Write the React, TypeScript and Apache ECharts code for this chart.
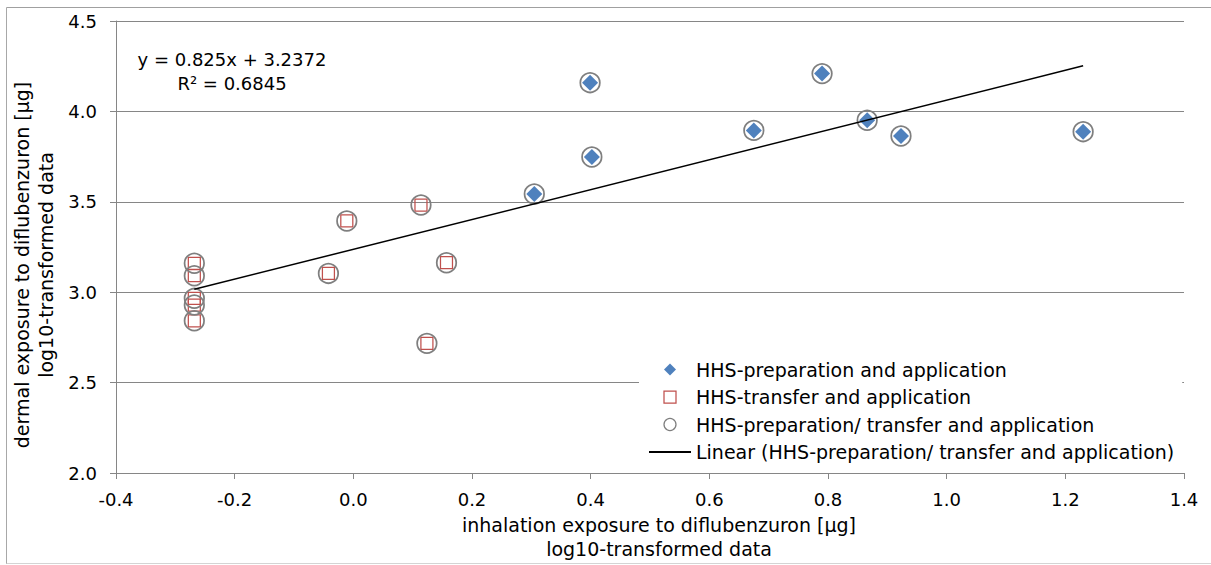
import React, { useEffect, useRef } from "react";
import * as echarts from "echarts";

const FONT = "'DejaVu Sans', 'Liberation Sans', sans-serif";

// Series names
const PREP_NAME = "HHS-preparation and application";
const TRANSFER_NAME = "HHS-transfer and application";
const ALL_NAME = "HHS-preparation/ transfer and application";
const LINEAR_NAME = "Linear (HHS-preparation/ transfer and application)";

// HHS-preparation and application (log10 µg)
const prepInhalation = [0.399, 0.402, 0.305, 0.675, 0.79, 0.866, 0.923, 1.23];
const prepDermal = [4.159, 3.748, 3.543, 3.895, 4.209, 3.951, 3.864, 3.888];

// HHS-transfer and application (log10 µg)
const transferInhalation = [-0.268, -0.268, -0.268, -0.268, -0.268, -0.042, 0.157, 0.124, -0.011, 0.114];
const transferDermal = [3.16, 3.091, 2.966, 2.929, 2.842, 3.104, 3.163, 2.717, 3.394, 3.482];

// Linear trend fitted to the combined data
const trendSlope = 0.825;
const trendIntercept = 3.2372;
const rSquared = 0.6845;

// Axis ranges
const xRange = { min: -0.4, max: 1.4, interval: 0.2 };
const yRange = { min: 2.0, max: 4.5, interval: 0.5 };

const yTitleLines = ["dermal exposure to diflubenzuron [µg]", "log10-transformed data"];
const xTitleLines = ["inhalation exposure to diflubenzuron [µg]", "log10-transformed data"];

const GRID_COLOR = "#868686";
const BLUE = "#4f81bd";
const RED = "#c0504d";
const GREY = "#7f7f7f";

// Square-proportioned legend icons (path symbols keep their aspect ratio)
const DIAMOND_ICON = "path://M5,0L10,5L5,10L0,5Z";
const SQUARE_ICON = "path://M0,0L10,0L10,10L0,10Z";

export default function App() {
  const ref = useRef<HTMLDivElement>(null);

  useEffect(() => {
    if (!ref.current) return;
    const chart = echarts.init(ref.current, null, { renderer: "svg" });

    const prepPoints = prepInhalation.map((x, i) => [x, prepDermal[i]]);
    const transferPoints = transferInhalation.map((x, i) => [x, transferDermal[i]]);
    const allPoints = [...prepPoints, ...transferPoints];
    const allX = allPoints.map((p) => p[0]);
    const xLo = Math.min(...allX);
    const xHi = Math.max(...allX);
    const trendPoints = [xLo, xHi].map((x) => [x, trendSlope * x + trendIntercept]);

    const fmt = (v: number) => (Math.abs(v) < 1e-9 ? "0.0" : v.toFixed(1));

    const axisLabelStyle = { fontFamily: FONT, fontSize: 18, color: "#000" };
    const textStyle = (text: string, size: number) => ({
      text,
      fontFamily: FONT,
      fontSize: size,
      fill: "#000",
      textAlign: "center",
      textVerticalAlign: "middle",
    });

    chart.setOption({
      animation: false,
      grid: { left: 116, right: 27, top: 21, bottom: 92, outerBoundsMode: "none" },
      xAxis: {
        type: "value",
        min: xRange.min,
        max: xRange.max,
        interval: xRange.interval,
        axisLine: { show: true, onZero: false, lineStyle: { color: GRID_COLOR, width: 1 } },
        axisTick: { show: true, length: 6, lineStyle: { color: GRID_COLOR, width: 1 } },
        splitLine: { show: false },
        axisLabel: { ...axisLabelStyle, margin: 17, formatter: fmt },
      },
      yAxis: {
        type: "value",
        min: yRange.min,
        max: yRange.max,
        interval: yRange.interval,
        axisLine: { show: true, onZero: false, lineStyle: { color: GRID_COLOR, width: 1 } },
        axisTick: { show: true, length: 6, lineStyle: { color: GRID_COLOR, width: 1 } },
        splitLine: { show: true, lineStyle: { color: GRID_COLOR, width: 1 } },
        axisLabel: { ...axisLabelStyle, margin: 19, formatter: fmt },
      },
      legend: {
        orient: "vertical",
        left: 639,
        top: 352,
        padding: [8, 8, 6, 9],
        backgroundColor: "#fff",
        itemWidth: 42,
        itemHeight: 12,
        itemGap: 8.5,
        symbolKeepAspect: true,
        selectedMode: false,
        textStyle: { fontFamily: FONT, fontSize: 19, color: "#000", lineHeight: 19 },
        data: [
          { name: PREP_NAME, icon: DIAMOND_ICON, itemStyle: { color: BLUE, borderWidth: 0, opacity: 1 } },
          {
            name: TRANSFER_NAME,
            icon: SQUARE_ICON,
            itemStyle: { color: "#fff", borderColor: RED, borderWidth: 1.25, opacity: 1 },
          },
          {
            name: ALL_NAME,
            icon: "circle",
            itemStyle: { color: "#fff", borderColor: GREY, borderWidth: 1.25, opacity: 1 },
          },
          {
            name: LINEAR_NAME,
            itemStyle: { color: "rgba(0,0,0,0)", borderWidth: 0, opacity: 0 },
          },
        ],
      },
      series: [
        {
          name: PREP_NAME,
          type: "scatter",
          symbol: "diamond",
          symbolSize: 16,
          itemStyle: { color: BLUE, opacity: 1 },
          data: prepPoints,
          z: 2,
        },
        {
          name: TRANSFER_NAME,
          type: "scatter",
          symbol: "rect",
          symbolSize: 12,
          itemStyle: { color: "rgba(0,0,0,0)", borderColor: RED, borderWidth: 1.25, opacity: 1 },
          data: transferPoints,
          z: 3,
        },
        {
          name: ALL_NAME,
          type: "scatter",
          symbol: "circle",
          symbolSize: 19.5,
          itemStyle: { color: "rgba(0,0,0,0)", borderColor: GREY, borderWidth: 1.75, opacity: 1 },
          data: allPoints,
          z: 4,
        },
        {
          name: LINEAR_NAME,
          type: "line",
          symbol: "none",
          showSymbol: false,
          itemStyle: { color: "#000" },
          lineStyle: { color: "#000", width: 1.5 },
          data: trendPoints,
          z: 5,
        },
      ],
      graphic: [
        // chart frame
        { type: "line", silent: true, shape: { x1: 6.5, y1: 7.5, x2: 1211, y2: 7.5 }, style: { stroke: "#a0a0a0", lineWidth: 1 } },
        { type: "line", silent: true, shape: { x1: 6.5, y1: 7.5, x2: 6.5, y2: 564 }, style: { stroke: "#a8a8a8", lineWidth: 1 } },
        { type: "line", silent: true, shape: { x1: 6.5, y1: 563.5, x2: 1211, y2: 563.5 }, style: { stroke: "#d4d4d4", lineWidth: 1 } },
        // trendline equation
        { type: "text", x: 232, y: 59, style: textStyle(`y = ${trendSlope}x + ${trendIntercept}`, 18) },
        { type: "text", x: 232, y: 83, style: textStyle(`R² = ${rSquared}`, 18) },
        // axis titles
        { type: "text", x: 659, y: 525, style: textStyle(xTitleLines[0], 19) },
        { type: "text", x: 659, y: 549, style: textStyle(xTitleLines[1], 19) },
        { type: "text", x: 22, y: 265, rotation: Math.PI / 2, style: textStyle(yTitleLines[0], 19) },
        { type: "text", x: 46, y: 265, rotation: Math.PI / 2, style: textStyle(yTitleLines[1], 19) },
      ],
    });

    return () => chart.dispose();
  }, []);

  return (
    <div
      ref={ref}
      style={{ position: "fixed", left: 0, top: 0, width: 1211, height: 565, background: "#fff" }}
    />
  );
}
